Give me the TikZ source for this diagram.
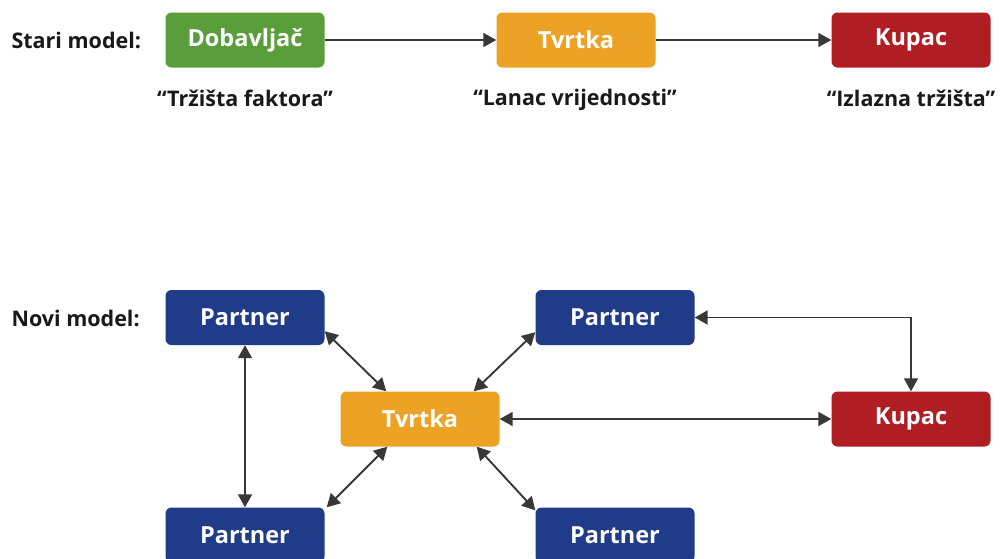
\documentclass[tikz,border=0pt]{standalone}
\usepackage{fontspec}
\setmainfont{Open Sans}
\usetikzlibrary{arrows.meta}

\definecolor{dobgreen}{RGB}{90,158,60}
\definecolor{tvrorange}{RGB}{236,162,36}
\definecolor{kupred}{RGB}{176,30,36}
\definecolor{partblue}{RGB}{32,60,136}

\begin{document}
\begin{tikzpicture}[x=1pt,y=-1pt]
  \tikzset{box/.style={rounded corners=6pt, minimum width=159pt,
      minimum height=55pt, inner sep=0pt, text=white,
      font=\fontsize{23.5}{26}\selectfont\bfseries},
    lab/.style={font=\fontsize{21.5}{24}\selectfont\bfseries, text=black!90},
    arr/.style={draw=black!78, line width=1.9pt,
      -{Triangle[length=13pt,width=14pt]}},
    biarr/.style={arr, {Triangle[length=13pt,width=14pt]}-{Triangle[length=13pt,width=14pt]}}}
  \useasboundingbox[fill=white] (0,0) rectangle (1001,558);
  % stari model
  \node[lab, anchor=west] (stari) at (8,40) {Stari model:};
  \node[box, fill=dobgreen] (dob) at (245,40) {Dobavljač};
  \node[box, fill=tvrorange] (tvt) at (576,40) {Tvrtka};
  \node[box, fill=kupred] (kpt) at (911,40) {Kupac};
  \node[lab] (ldob) at (245,98) {“Tržišta faktora”};
  \node[lab] (ltvt) at (575,100) {“Lanac vrijednosti”};
  \node[lab] (lkpt) at (911,98) {“Izlazna tržišta”};
  \draw[arr] (dob) -- (tvt);
  \draw[arr] (tvt) -- (kpt);
  % novi model
  \node[lab, anchor=west] (novi) at (8,318) {Novi model:};
  \node[box, fill=partblue] (ptl) at (245,317.5) {Partner};
  \node[box, fill=partblue] (ptr) at (615,317.5) {Partner};
  \node[box, fill=tvrorange] (tv) at (420,419) {Tvrtka};
  \node[box, fill=kupred] (kpm) at (911,419) {Kupac};
  \node[box, fill=partblue] (pbl) at (245,535) {Partner};
  \node[box, fill=partblue] (pbr) at (615,535) {Partner};
  \draw[biarr] ([yshift=14pt]ptl.south east) -- ([xshift=46pt]tv.north west);
  \draw[biarr] ([yshift=13pt]ptr.south west) -- ([xshift=-26pt]tv.north east);
  \draw[biarr] ([xshift=47pt]tv.south west) -- ([xshift=2pt]pbl.north east);
  \draw[biarr] ([xshift=-23pt]tv.south east) -- ([yshift=-3pt]pbr.north west);
  \draw[biarr] (ptl) -- (pbl);
  \draw[biarr] (tv) -- (kpm);
  \draw[biarr] (ptr.east) -| (kpm.north);
\end{tikzpicture}
\end{document}
